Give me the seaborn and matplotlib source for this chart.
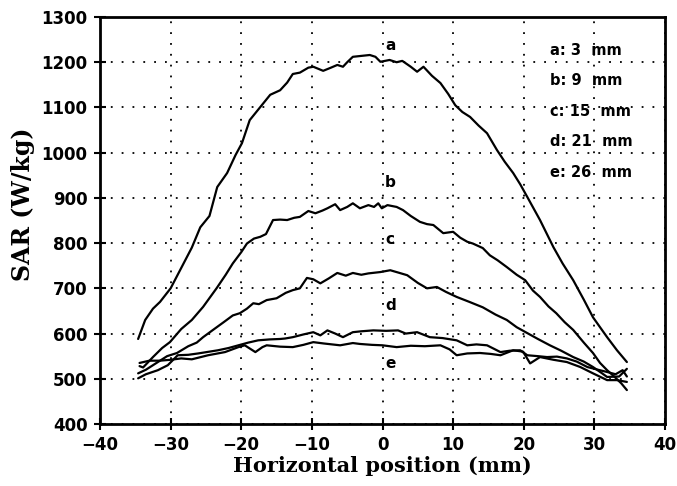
import numpy as np
import pandas as pd
import matplotlib
matplotlib.use("Agg")
import matplotlib.pyplot as plt
import seaborn as sns

# SAR profiles at five depths
depth_labels = ["a", "b", "c", "d", "e"]
depth_mm = [3, 9, 15, 21, 26]

x_a = [-34.6, -33.6, -32.5, -31.5, -30, -28.5, -27, -25.8, -24.5, -23.4, -22, -20.8, -19.9, -18.8,
       -17.3, -15.9, -14.5, -13.5, -12.7, -11.7, -10.5, -9.8, -8.4, -7.3, -6.4, -5.6, -5, -4.2, -3,
       -1.8, -1, -0.3, 1, 2, 2.8, 4, 4.9, 5.8, 7, 8.2, 9.3, 10.3, 11.3, 12.4, 13.6, 14.8, 16.2, 17.3,
       18.5, 19.5, 20.5, 22.3, 24.2, 25.5, 27, 28.5, 29.8, 31.8, 33.2, 34.6]
sar_a = [588, 630, 655, 670, 700, 745, 790, 835, 860, 924, 955, 995, 1021, 1072,
         1101, 1128, 1138, 1155, 1174, 1177, 1188, 1190, 1181, 1188, 1194, 1190, 1200, 1212, 1214,
         1216, 1212, 1201, 1205, 1200, 1203, 1190, 1179, 1190, 1170, 1154, 1130, 1105, 1090, 1079,
         1060, 1043, 1006, 980, 955, 930, 902, 851, 791, 755, 718, 675, 636, 592, 563, 537]

x_b = [-34.4, -33.9, -32.5, -31.2, -30.1, -28.5, -27, -25.4, -23.5, -22.2, -21.2, -20, -19.2, -18.2,
       -17.3, -16.5, -15.5, -14.5, -13.5, -12.5, -11.7, -10.5, -9.5, -8.5, -7.8, -6.7, -6, -5, -4.2,
       -3.2, -2, -1.2, -0.6, -0.1, 0.7, 2, 2.9, 4, 5.3, 6.3, 7.2, 8.6, 10, 11, 12, 12.8, 14.2, 15.2,
       16.3, 17.6, 19, 20.2, 21.3, 22.3, 23.5, 24.6, 25.8, 27, 28.5, 29.8, 30.8, 31.8, 32.8, 33.8, 34.6]
sar_b = [528, 525, 548, 568, 581, 610, 630, 659, 700, 730, 755, 780, 799, 810,
         814, 820, 851, 852, 851, 856, 858, 871, 866, 872, 877, 886, 873, 880, 888,
         877, 884, 880, 888, 877, 884, 880, 873, 860, 847, 842, 840, 822, 825, 812, 803, 799, 789, 773,
         762, 747, 730, 718, 695, 681, 660, 645, 625, 608, 580, 557, 535, 519, 505, 490, 475]

x_c = [-34.6, -33.5, -32, -30.5, -29.1, -27.5, -26.3, -25.4, -24, -22.5, -21.2, -20.2, -19.2, -18.3,
       -17.5, -16.4, -15, -13.7, -12.7, -11.7, -10.7, -9.8, -8.8, -7.6, -6.4, -5.2, -4.2, -3, -2,
       -0.3, 1.1, 2.2, 3.5, 5, 6.3, 7.7, 9, 10.5, 12.3, 14.2, 16, 17.6, 19, 20.5, 22, 23.7, 25.3, 27,
       28.5, 29.8, 31, 31.8, 33.5, 34.6]
sar_c = [512, 520, 535, 550, 557, 572, 580, 592, 608, 625, 640, 645, 655, 667,
         665, 674, 678, 690, 696, 700, 723, 720, 711, 722, 734, 728, 734, 730, 733,
         736, 740, 735, 729, 712, 700, 703, 692, 681, 670, 658, 642, 630, 614, 601, 588, 574, 562, 548,
         538, 526, 513, 504, 505, 522]

x_d = [-34.6, -33.5, -31.8, -30.4, -29, -27.5, -26.1, -24.5, -23.3, -21.8, -20.4, -19, -17.6, -16,
       -14.5, -13.8, -12.7, -11.2, -9.8, -8.8, -7.8, -6.7, -5.6, -4.2, -3, -1.3, 0.5, 2.2, 3.3, 4.9,
       6.7, 8.5, 10.5, 12, 13.3, 14.8, 16.7, 18, 19.5, 20.5, 22, 23.3, 24.7, 26.1, 27.5, 29, 30.5,
       31.8, 33, 34, 34.6]
sar_d = [501, 510, 519, 530, 552, 553, 556, 560, 563, 568, 574, 580, 585, 587,
         588, 589, 592, 598, 603, 596, 607, 600, 592, 603, 605, 607, 606, 607, 600, 603,
         592, 590, 585, 574, 576, 574, 559, 562, 563, 552, 550, 548, 549, 545, 538, 526, 520,
         515, 510, 519, 505]

x_e = [-34.4, -33, -31.5, -30, -28.5, -27, -24.7, -22.3, -20.4, -19.5, -18, -17, -16.4, -14.5,
       -12.7, -11.2, -9.8, -8.3, -6, -4.2, -3.2, -1.5, 0, 2, 4, 6, 8.2, 9.5, 10.5, 12, 13.8, 15.3,
       16.7, 18.5, 19.9, 20.9, 22.3, 24.2, 26.1, 28, 29.8, 31.8, 33.2, 34.6]
sar_e = [535, 540, 540, 542, 545, 543, 552, 559, 570, 574, 559, 570, 574, 571,
         570, 575, 581, 578, 574, 579, 577, 575, 574, 570, 573, 572, 574, 565, 552, 556, 557, 555,
         552, 563, 560, 534, 548, 542, 537, 526, 512, 497, 497, 493]

curves = {"a": (x_a, sar_a), "b": (x_b, sar_b), "c": (x_c, sar_c),
          "d": (x_d, sar_d), "e": (x_e, sar_e)}

# where the little letters sit next to each curve
tag_x = [1.1, 1.1, 1.1, 1.1, 1.1]
tag_y = [1238, 933, 807, 663, 534]

sns.set_style("ticks")
plt.rcParams["font.family"] = ["DejaVu Sans"]
plt.rcParams["text.color"] = "black"
plt.rcParams["axes.labelcolor"] = "black"
plt.rcParams["xtick.color"] = "black"
plt.rcParams["ytick.color"] = "black"

fig = plt.figure(figsize=(6.77, 4.86), dpi=100)
ax = fig.add_axes([0.1477, 0.1276, 0.8346, 0.8374])

for name in depth_labels:
    xs, ys = curves[name]
    df = pd.DataFrame({"x": xs, "sar": ys})
    sns.lineplot(data=df, x="x", y="sar", ax=ax, color="black", lw=1.6,
                 sort=False, estimator=None)

for name, tx, ty in zip(depth_labels, tag_x, tag_y):
    ax.text(tx, ty, name, fontsize=11, fontweight="bold", ha="center", va="center")

# depth key, top right
for i, (name, d) in enumerate(zip(depth_labels, depth_mm)):
    ax.text(23.7, 1227 - i * 67.5, f"{name}: {d}  mm", fontsize=10.5, fontweight="bold",
            ha="left", va="center")

ax.set_xlim(-40, 40)
ax.set_ylim(400, 1300)
ax.set_xticks(np.arange(-40, 41, 10))
ax.set_yticks(np.arange(400, 1301, 100))
ax.grid(True, color="black", linestyle=(0, (1, 5)), linewidth=1.3)
ax.tick_params(direction="inout", length=8, width=1.5, labelsize=12, pad=5)
for lab in ax.get_xticklabels() + ax.get_yticklabels():
    lab.set_fontweight("bold")
for sp in ax.spines.values():
    sp.set_linewidth(2)
    sp.set_color("black")

ax.set_xlabel("Horizontal position (mm)", family="DejaVu Serif", fontweight="bold",
              fontsize=15, labelpad=1)
ax.set_ylabel("SAR (W/kg)", family="DejaVu Serif", fontweight="bold",
              fontsize=17, labelpad=6)
ax.yaxis.set_label_coords(-0.115, 0.54)

fig.savefig("out.png", dpi=100)
